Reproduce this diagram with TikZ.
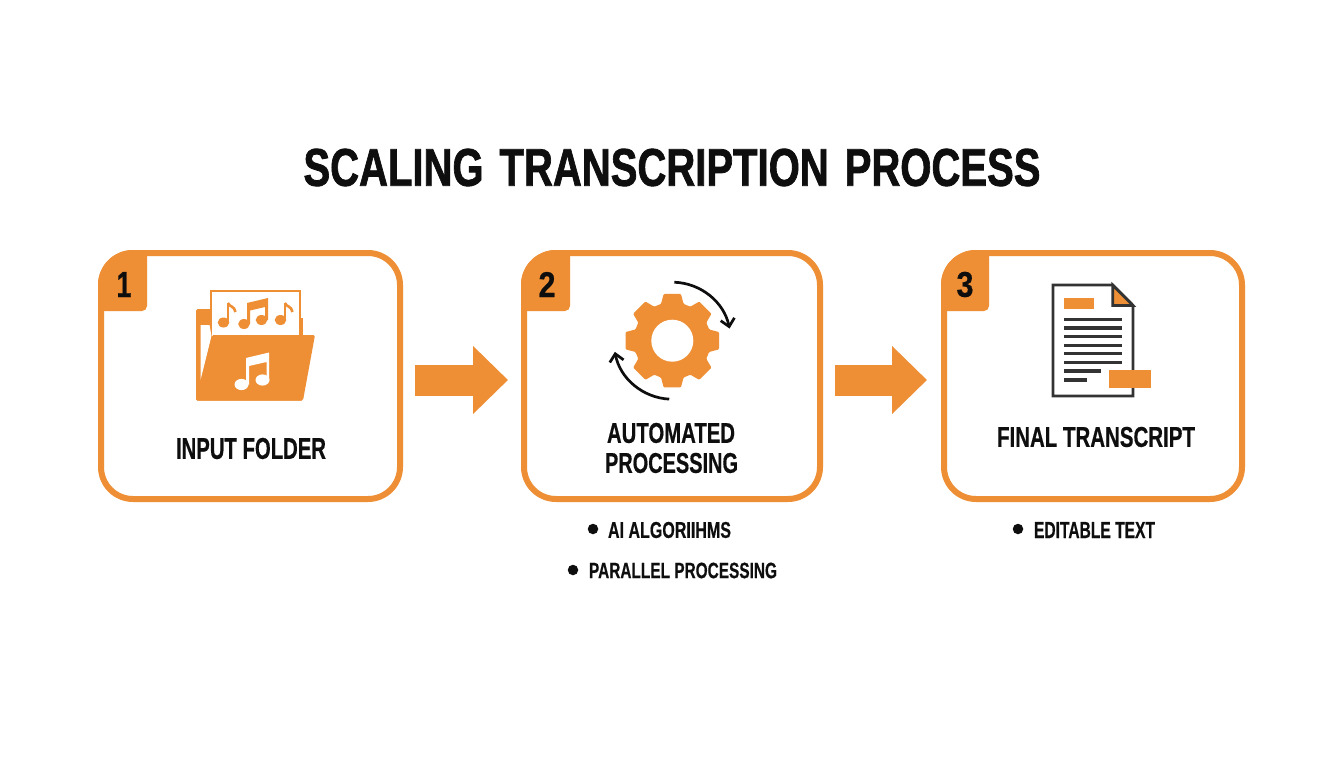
\documentclass[tikz,border=0pt]{standalone}
\usepackage{fontspec}
\usepackage{graphicx}
\setmainfont{Liberation Sans}[BoldFeatures={FakeBold=0.6}]
\newfontfamily\titlefont{Liberation Sans}[BoldFeatures={FakeBold=1.6}]
\usetikzlibrary{arrows.meta,calc}
\definecolor{brandorange}{HTML}{EE8F35}
\definecolor{inkdark}{HTML}{0E0E0E}
\definecolor{docdark}{HTML}{333333}
\newcommand{\fitlabel}[3]{\resizebox{#1pt}{#2pt}{\bfseries #3}}
\tikzset{
  card/.style={draw=brandorange,line width=6pt,fill=white,rounded corners=32pt,minimum height=246pt,outer sep=0pt,inner sep=0pt},
  txt/.style={inner sep=0pt,outer sep=0pt,text=inkdark},
  flow/.style={brandorange,line width=31pt,-{Triangle[length=35pt,width=66pt]}},
  dot/.style={circle,fill=inkdark,minimum size=10.5pt,inner sep=0pt,outer sep=0pt},
  docline/.style={docdark,line width=3.2pt},
  spin/.style={inkdark,line width=2.7pt,-{Straight Barb[length=7.5pt,width=14pt,line width=2.7pt]}},
}
\newcommand{\tabshape}[2]{% left x, right x
  \fill[brandorange] (#1,311) -- (#1,285) arc[start angle=180,end angle=270,radius=35] -- (#2,250) -- (#2,306) arc[start angle=0,end angle=90,radius=5] -- cycle;}
\newcommand{\noteflag}[3]{% head x, head y, stem top y
  \fill[brandorange] (#1,#2) ellipse[x radius=5.8,y radius=5];
  \draw[brandorange,line width=2.6pt] (#1+4.4,#2) -- (#1+4.4,#3);
  \draw[brandorange,line width=2.6pt] (#1+4.4,#3) .. controls (#1+6,#3+4) and (#1+11,#3+3) .. (#1+12,#3+9);}
\begin{document}
\begin{tikzpicture}[x=1pt,y=-1pt]
\useasboundingbox (0,0) rectangle (1344,768);
\fill[white] (0,0) rectangle (1344,768);

% title
\node[txt] (title) at (672,167.5) {\titlefont\fitlabel{737}{37}{SCALING\hspace{0.12em} TRANSCRIPTION\hspace{0.12em} PROCESS}};

% cards
\node[card,minimum width=299pt] (card1) at (250.5,376) {};
\node[card,minimum width=296pt] (card2) at (672,376) {};
\node[card,minimum width=298pt] (card3) at (1093,376) {};

% flow arrows
\draw[flow] ([shift={(15,4)}]card1.east) -- ([shift={(-16,4)}]card2.west);
\draw[flow] ([shift={(15,4)}]card2.east) -- ([shift={(-17,4)}]card3.west);

% tabs
\tabshape{98}{147}
\tabshape{521}{570}
\tabshape{941}{989}
\node[txt] (n1) at (124,284.5) {\fitlabel{15}{25}{1}};
\node[txt] (n2) at (547,284.5) {\fitlabel{17}{25}{2}};
\node[txt] (n3) at (965,284.5) {\fitlabel{17}{25}{3}};

% folder icon
\fill[brandorange,rounded corners=1.5pt] (196,400.5) -- (196,309) -- (212,309) -- (212,340) -- (303,400.5) -- cycle;
\fill[brandorange] (300,318) rectangle (302.5,336);
\draw[brandorange,line width=2pt,fill=white] (210.5,291) rectangle (299.5,340);
\fill[white] (200.5,325) -- (209.5,325) -- (211.5,336) -- (200.5,380) -- cycle;
\fill[brandorange,rounded corners=1.5pt] (212,335) -- (315,335) -- (303,400.5) -- (196,400.5) -- (196,385) -- (200.5,385) -- cycle;
\noteflag{223.5}{322.5}{303}
\noteflag{280.5}{320}{303}
\fill[brandorange] (244,324) ellipse[x radius=5.8,y radius=5];
\fill[brandorange] (261.5,320) ellipse[x radius=5.8,y radius=5];
\fill[brandorange] (247,324) -- (247,303) -- (268,298) -- (268,320) -- (265,320) -- (265,307) -- (250,310.5) -- (250,324) -- cycle;
% white note
\fill[white] (241.5,384.5) ellipse[x radius=7,y radius=5.6];
\fill[white] (262.5,380) ellipse[x radius=7,y radius=5.6];
\fill[white] (246,384.5) -- (246,358) -- (269,352.5) -- (269,380) -- (266.5,380) -- (266.5,362) -- (249,366) -- (249,384.5) -- cycle;

% gear icon
\begin{scope}[shift={(672.3,340.7)}]
  \fill[brandorange,rounded corners=1pt] (-18:38.5)
    \foreach \a in {0,45,...,315} { -- (\a-17:38.5) -- (\a-10.5:47.5) -- (\a+10.5:47.5) -- (\a+17:38.5) } -- cycle;
  \fill[white] (0,0) circle[radius=21];
  \draw[spin] (-88:58.5) arc[start angle=-88,end angle=-12,radius=58.5];
  \draw[spin] (93:58.5) arc[start angle=93,end angle=169,radius=58.5];
\end{scope}

% document icon
\draw[docdark,line width=2.8pt,fill=white,line join=miter] (1053,285) -- (1112.7,285) -- (1133,305.5) -- (1133,396) -- (1053,396) -- cycle;
\draw[docdark,line width=2.8pt,fill=brandorange,line join=miter] (1112.7,285) -- (1112.7,305.5) -- (1133,305.5) -- cycle;
\fill[brandorange] (1064,298.3) rectangle (1093.5,309.3);
\foreach \yy in {319.3,328,336.7,345.3,353.7,362.3} { \draw[docline] (1064,\yy) -- (1122.3,\yy); }
\draw[docline] (1064,371) -- (1101,371);
\draw[docline] (1064,380) -- (1087,380);
\fill[brandorange] (1109.3,370) rectangle (1150.7,388);

% labels
\node[txt] (l1) at (251,448.5) {\fitlabel{150}{21}{INPUT FOLDER}};
\node[txt,align=center] (l2a) at (671,433) {\fitlabel{128}{20}{AUTOMATED}};
\node[txt] (l2b) at (671.5,463) {\fitlabel{133}{20}{PROCESSING}};
\node[txt] (l3) at (1096,437) {\fitlabel{198}{20}{FINAL TRANSCRIPT}};

% bullets
\node[dot] (b1) at (593,529) {};
\node[txt] (t1) at (669.5,530) {\fitlabel{123}{16}{AI ALGORIIHMS}};
\node[dot] (b2) at (573,570) {};
\node[txt] (t2) at (683,570.5) {\fitlabel{188}{15.5}{PARALLEL PROCESSING}};
\node[dot] (b3) at (1018,529) {};
\node[txt] (t3) at (1094.5,530) {\fitlabel{121}{16}{EDITABLE TEXT}};
\end{tikzpicture}
\end{document}
